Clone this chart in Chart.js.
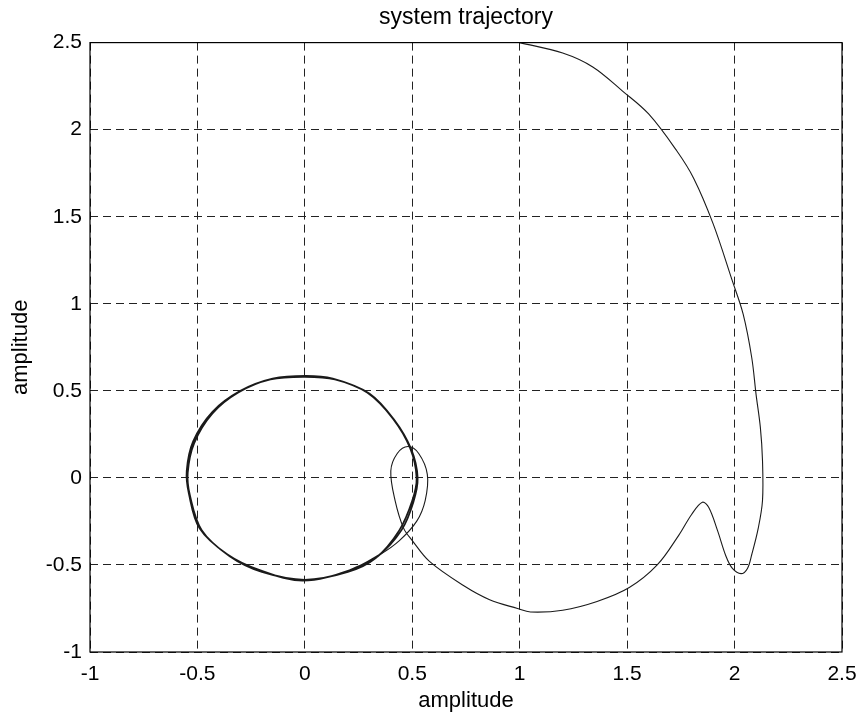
<!DOCTYPE html>
<html>
<head>
<meta charset="utf-8">
<script src="https://cdn.jsdelivr.net/npm/chart.js@4.4.1/dist/chart.umd.min.js"></script>
<style>
  html, body { margin: 0; padding: 0; background: #fff; }
  #wrap { width: 857px; height: 714px; }
</style>
</head>
<body>
<div id="wrap"><canvas id="trajChart" width="857" height="714"></canvas></div>
<script>
  // trajectory: approach from the top, the spike, the small loop
  const approachX = [1.00, 1.20, 1.34, 1.48, 1.60, 1.73, 1.81, 1.90, 1.99, 2.04, 2.08, 2.10, 2.12, 2.13, 2.13,
    2.11, 2.08, 2.06, 2.03, 1.99, 1.96, 1.92, 1.88, 1.85, 1.80, 1.74, 1.64, 1.51, 1.36, 1.20,
    1.05, 0.99, 0.86, 0.74, 0.58, 0.50, 0.46, 0.42, 0.40, 0.43, 0.48, 0.53, 0.57, 0.56, 0.52, 0.44, 0.35];
  const approachY = [2.50, 2.44, 2.36, 2.22, 2.09, 1.88, 1.72, 1.46, 1.13, 0.94, 0.69, 0.48, 0.29, 0.10, -0.13,
    -0.29, -0.44, -0.52, -0.55, -0.52, -0.45, -0.30, -0.17, -0.14, -0.21, -0.33, -0.50, -0.63, -0.71, -0.76,
    -0.77, -0.75, -0.70, -0.62, -0.48, -0.36, -0.29, -0.13, 0.04, 0.14, 0.18, 0.14, 0.02, -0.13, -0.25, -0.36, -0.44];

  // limit cycle, two passes (clockwise)
  const cycleX = [0.21, -0.01, -0.21, -0.36, -0.49, -0.54, -0.55, -0.52, -0.43, -0.30, -0.15, 0.005, 0.13, 0.29, 0.41, 0.49, 0.52, 0.50, 0.44, 0.33,
    0.20, 0.00, -0.20, -0.35, -0.48, -0.535, -0.545, -0.515, -0.43, -0.31, -0.16, 0.00, 0.14, 0.30, 0.415, 0.495, 0.525, 0.505, 0.45, 0.34, 0.21];
  const cycleY = [-0.53, -0.59, -0.53, -0.44, -0.29, -0.09, 0.04, 0.21, 0.38, 0.50, 0.57, 0.586, 0.57, 0.49, 0.34, 0.17, 0.00, -0.13, -0.30, -0.46,
    -0.54, -0.585, -0.54, -0.45, -0.30, -0.10, 0.03, 0.20, 0.37, 0.49, 0.565, 0.58, 0.565, 0.485, 0.335, 0.165, 0.00, -0.14, -0.30, -0.45, -0.53];

  const xTicks = [-1, -0.5, 0, 0.5, 1, 1.5, 2, 2.5];
  const xTickLabels = ['-1', '-0.5', '0', '0.5', '1', '1.5', '2', '2.5'];
  const yTicks = [-1, -0.5, 0, 0.5, 1, 1.5, 2, 2.5];
  const yTickLabels = ['-1', '-0.5', '0', '0.5', '1', '1.5', '2', '2.5'];

  const points = [];
  approachX.forEach((x, i) => points.push({ x, y: approachY[i] }));
  cycleX.forEach((x, i) => points.push({ x, y: cycleY[i] }));
  const cycleStart = approachX.length - 1;

  const FONT = "'Liberation Sans', Arial, sans-serif";

  const boxPlugin = {
    id: 'box',
    afterDraw(chart) {
      const { ctx, chartArea: a } = chart;
      ctx.save();
      ctx.setLineDash([]);
      ctx.strokeStyle = '#000';
      ctx.lineWidth = 1.2;
      ctx.strokeRect(a.left, a.top, a.right - a.left, a.bottom - a.top);
      ctx.restore();
    }
  };

  function tickSetter(values) {
    return scale => { scale.ticks = values.map(v => ({ value: v })); };
  }

  new Chart(document.getElementById('trajChart'), {
    type: 'scatter',
    data: {
      datasets: [{
        data: points,
        showLine: true,
        borderColor: '#1a1a1a',
        borderWidth: 1.1,
        pointRadius: 0,
        tension: 0.35,
        fill: false,
        segment: {
          borderWidth: c => (c.p0DataIndex >= cycleStart ? 1.7 : 1.1)
        }
      }]
    },
    options: {
      responsive: false,
      animation: false,
      devicePixelRatio: 1,
      layout: { padding: { left: 0, right: 15, top: 0, bottom: 0 } },
      plugins: {
        legend: { display: false },
        tooltip: { enabled: false },
        title: {
          display: true,
          text: 'system trajectory',
          color: '#000',
          fullSize: false,
          font: { family: FONT, size: 23, weight: 'normal', lineHeight: 1.2 },
          padding: { top: 4, bottom: 11 }
        }
      },
      scales: {
        x: {
          type: 'linear',
          min: -1,
          max: 2.5,
          afterBuildTicks: tickSetter(xTicks),
          afterFit: s => { s.height = 62; s.paddingRight = 0; s.paddingLeft = 0; },
          grid: { color: '#222', lineWidth: 1, drawTicks: false },
          border: { display: false, dash: [8, 5] },
          ticks: {
            color: '#000',
            padding: 10,
            maxRotation: 0,
            font: { family: FONT, size: 21 },
            callback: v => xTickLabels[xTicks.indexOf(v)]
          },
          title: {
            display: true,
            text: 'amplitude',
            color: '#000',
            font: { family: FONT, size: 22, lineHeight: 1.2 },
            padding: { top: 0, bottom: 0 }
          }
        },
        y: {
          type: 'linear',
          min: -1,
          max: 2.5,
          afterBuildTicks: tickSetter(yTicks),
          afterFit: s => { s.width = 90; },
          grid: { color: '#222', lineWidth: 1, drawTicks: false },
          border: { display: false, dash: [8, 5] },
          ticks: {
            color: '#000',
            padding: 8,
            font: { family: FONT, size: 21 },
            callback: v => yTickLabels[yTicks.indexOf(v)]
          },
          title: {
            display: true,
            text: 'amplitude',
            color: '#000',
            font: { family: FONT, size: 22, lineHeight: 1.2 },
            padding: { top: 8, bottom: 0 }
          }
        }
      }
    },
    plugins: [boxPlugin]
  });
</script>
</body>
</html>
